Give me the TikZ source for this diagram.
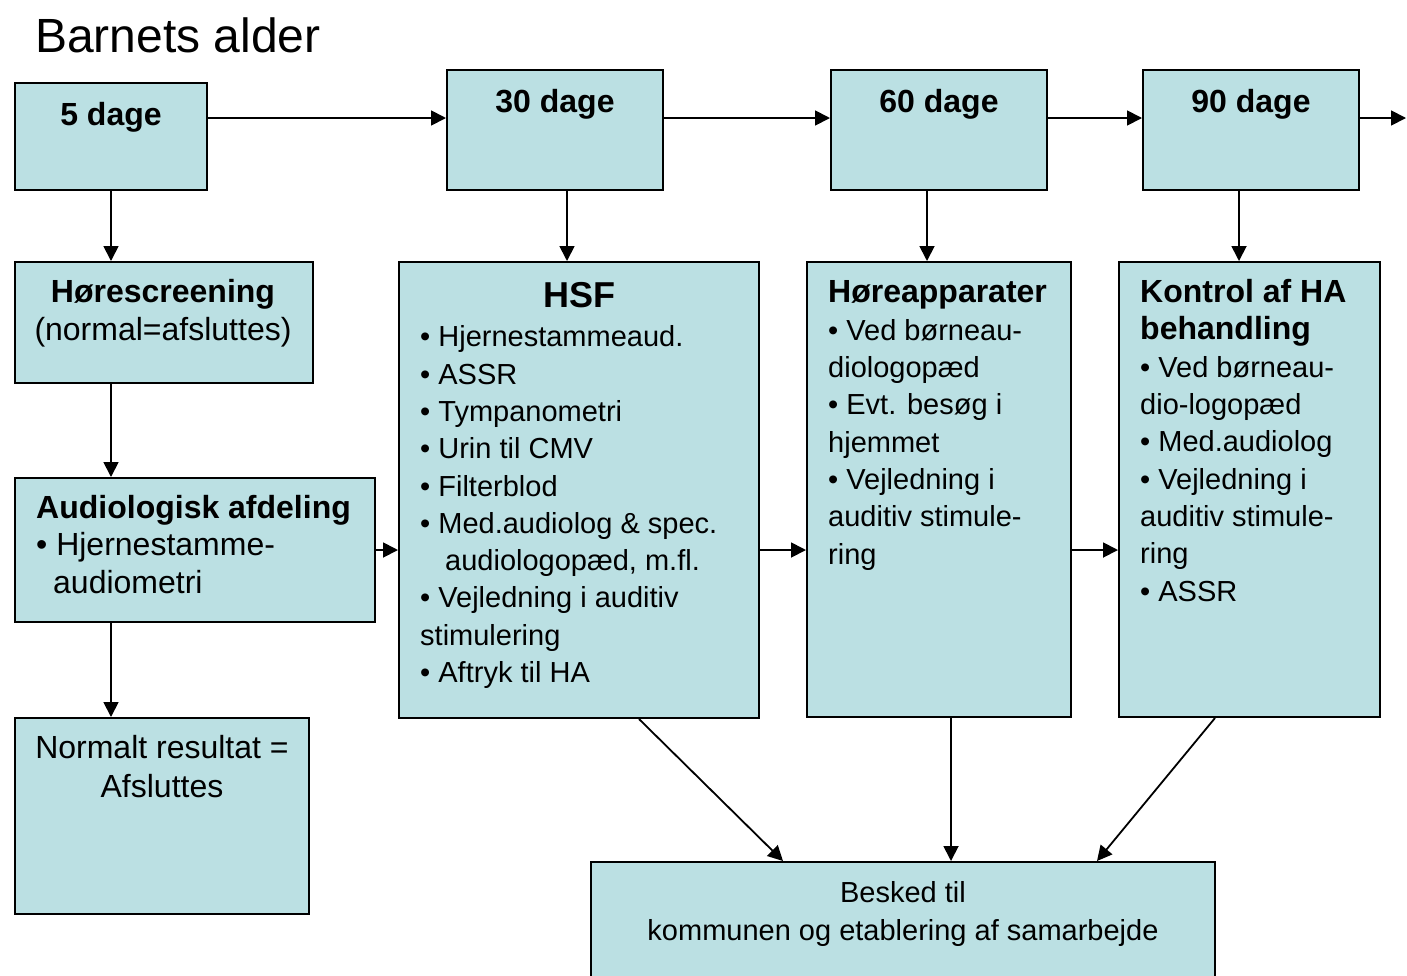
\documentclass[tikz,border=0pt]{standalone}
\usepackage{fontspec}
\setmainfont{Liberation Sans}
\usetikzlibrary{arrows.meta,calc}
\definecolor{boxfill}{RGB}{187,224,227}
\newcommand\bodyfont{\fontsize{29}{37.3}\selectfont}
\newcommand\bigfont{\fontsize{32}{37.3}\selectfont}
\tikzset{
  box/.style={draw=black, line width=2pt, fill=boxfill, rectangle, inner sep=0pt},
  conn/.style={line width=1.8pt, -{Triangle[length=15pt,width=15pt]}},
  txt/.style={inner sep=0pt, anchor=base west, align=left},
  ctxt/.style={inner sep=0pt, anchor=base, align=center},
}
\begin{document}
\begin{tikzpicture}[x=1pt,y=-1pt]
\useasboundingbox (0,0) rectangle (1407,975);
\clip (0,0) rectangle (1407,975);

\node[txt, font=\fontsize{48}{50}\selectfont] (title) at (35,52.5) {Barnets alder};

% boxes
\node[box, minimum width=192pt, minimum height=107pt] (d5) at (111,136.5) {};
\node[box, minimum width=216pt, minimum height=120pt] (d30) at (555,130) {};
\node[box, minimum width=216pt, minimum height=120pt] (d60) at (939,130) {};
\node[box, minimum width=216pt, minimum height=120pt] (d90) at (1251,130) {};
\node[box, minimum width=298pt, minimum height=121pt] (scr) at (164,322.5) {};
\node[box, minimum width=360pt, minimum height=144pt] (aud) at (195,550) {};
\node[box, minimum width=294pt, minimum height=196pt] (norm) at (162,816) {};
\node[box, minimum width=360pt, minimum height=456pt] (hsf) at (579,490) {};
\node[box, minimum width=264pt, minimum height=455pt] (hor) at (939,489.5) {};
\node[box, minimum width=261pt, minimum height=455pt] (kon) at (1249.5,489.5) {};
\node[box, minimum width=624pt, minimum height=128pt] (bes) at (903,926) {};

% texts (multi-line nodes are placed by the baseline of their last line)
\node[ctxt, font=\bigfont\bfseries] (t5) at (111,125) {5 dage};
\node[ctxt, font=\bigfont\bfseries] (t30) at (555,112) {30 dage};
\node[ctxt, font=\bigfont\bfseries] (t60) at (939,112) {60 dage};
\node[ctxt, font=\bigfont\bfseries] (t90) at (1251,112) {90 dage};
\node[ctxt, font=\bigfont] (tscr) at (163,340) {\textbf{Hørescreening}\\(normal=afsluttes)};
\node[txt, font=\bigfont] (taud) at (36,593) {\textbf{Audiologisk afdeling}\\• Hjernestamme-\\\hspace*{17pt}audiometri};
\node[ctxt, font=\fontsize{32}{39}\selectfont] (tnorm) at (162,797) {Normalt resultat =\\Afsluttes};
\node[ctxt, font=\fontsize{36}{40}\selectfont\bfseries] (thsf) at (579,307) {HSF};
\node[txt, font=\bodyfont] (thsfl) at (420,682.5) {• Hjernestammeaud.\\• ASSR\\• Tympanometri\\• Urin til CMV\\• Filterblod\\• Med.audiolog \& spec.\\\hspace*{25pt}audiologopæd, m.fl.\\• Vejledning i auditiv\\stimulering\\• Aftryk til HA};
\node[txt, font=\bodyfont] (thor) at (828,564) {{\bigfont\bfseries Høreapparater}\\• Ved børneau-\\diologopæd\\• Evt. besøg i\\hjemmet\\• Vejledning i\\auditiv stimule-\\ring};
\node[txt, font=\bodyfont] (tkon) at (1140,601) {{\bigfont\bfseries Kontrol af HA}\\{\bigfont\bfseries behandling}\\• Ved børneau-\\dio-logopæd\\• Med.audiolog\\• Vejledning i\\auditiv stimule-\\ring\\• ASSR};
\node[ctxt, font=\bodyfont] (tbes) at (903,940) {Besked til\\kommunen og etablering af samarbejde};

% connectors top row
\coordinate (r30) at ([yshift=12pt]d30.west);
\coordinate (rend) at (1406,118);
\draw[conn] (d5.east |- r30) -- (r30);
\draw[conn] ([yshift=12pt]d30.east) -- ([yshift=12pt]d60.west);
\draw[conn] ([yshift=12pt]d60.east) -- ([yshift=12pt]d90.west);
\draw[conn] ([yshift=12pt]d90.east) -- (rend);

% verticals
\draw[conn] (d5.south) -- (d5.south |- scr.north);
\draw[conn] (d5.south |- scr.south) -- (d5.south |- aud.north);
\draw[conn] (d5.south |- aud.south) -- (d5.south |- norm.north);
\draw[conn] ([xshift=12pt]d30.south) -- ([xshift=12pt]d30.south |- hsf.north);
\draw[conn] ([xshift=-12pt]d60.south) -- ([xshift=-12pt]d60.south |- hor.north);
\draw[conn] ([xshift=-12pt]d90.south) -- ([xshift=-12pt]d90.south |- kon.north);

% middle row
\draw[conn] (aud.east) -- (aud.east -| hsf.west);
\draw[conn] (aud.east -| hsf.east) -- (aud.east -| hor.west);
\draw[conn] (aud.east -| hor.east) -- (aud.east -| kon.west);

% to bottom box
\draw[conn] ([xshift=60pt]hsf.south) -- ([xshift=-120pt]bes.north);
\draw[conn] ([xshift=12pt]hor.south) -- ([xshift=12pt]hor.south |- bes.north);
\draw[conn] ([xshift=-34.5pt]kon.south) -- ([xshift=194pt]bes.north);
\end{tikzpicture}
\end{document}
